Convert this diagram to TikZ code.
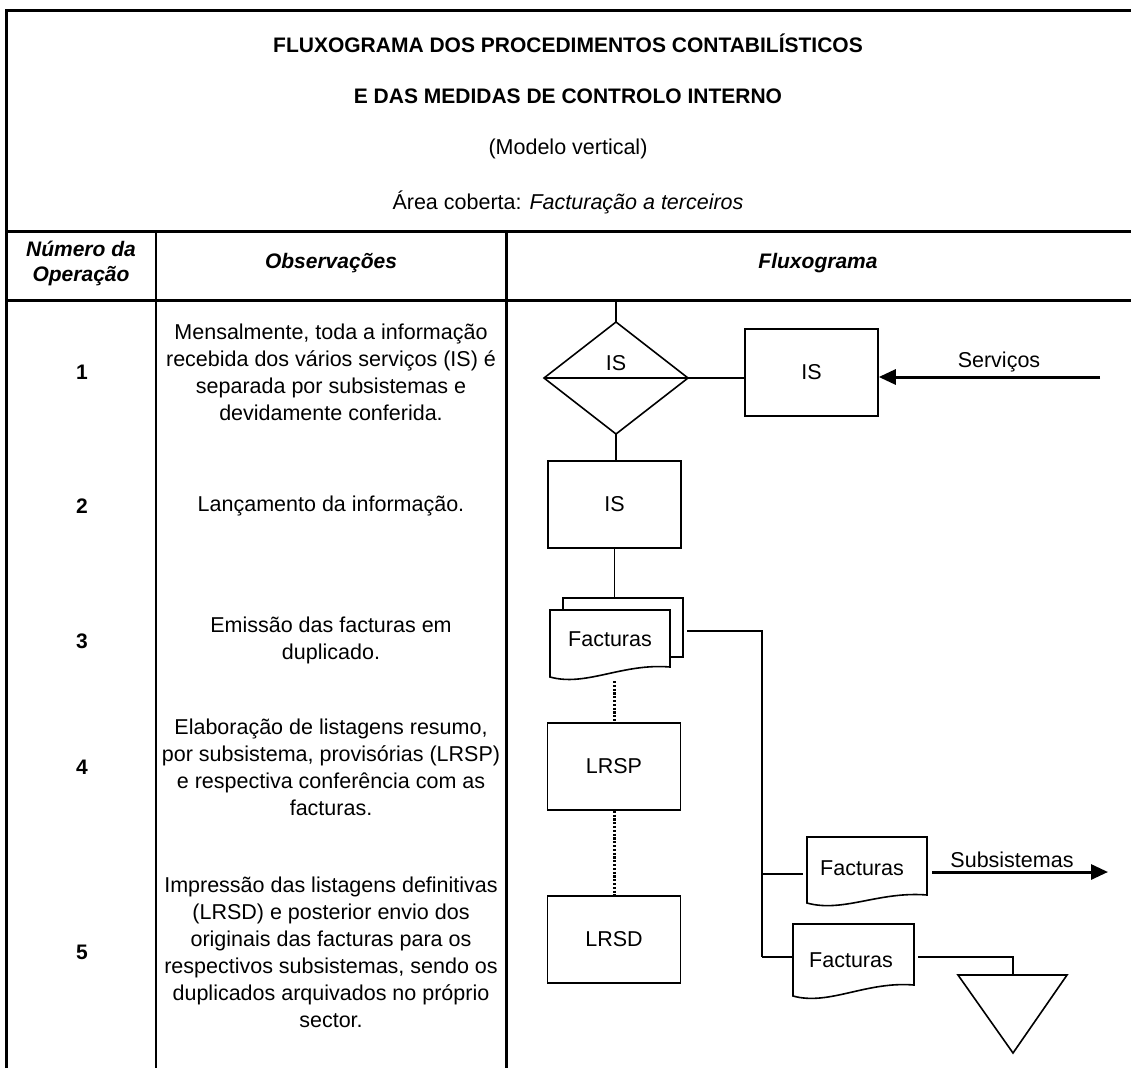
\documentclass[tikz,border=0pt]{standalone}
\usepackage{fontspec}
\setmainfont{Liberation Sans}
\usetikzlibrary{arrows.meta}
\begin{document}
\begin{tikzpicture}[x=1pt,y=-1pt,
  every node/.style={font=\fontsize{21.5}{27}\selectfont, inner sep=0pt},
  frame/.style={line width=3pt},
  thinframe/.style={line width=2pt},
  conn/.style={line width=1.6pt},
  box/.style={draw, line width=1.6pt, minimum width=133pt, minimum height=87pt, inner sep=0pt},
  docshape/.style={draw, line width=1.6pt, fill=white},
  dotconn/.style={line width=3pt, dash pattern=on 2.2pt off 1.6pt},
  arr/.style={line width=3pt, -{Triangle[length=17pt,width=15pt]}},
  hdr/.style={font=\fontsize{21}{27}\selectfont\bfseries},
  colhdr/.style={font=\fontsize{21}{25}\selectfont\bfseries\itshape, align=center},
  num/.style={font=\fontsize{21}{27}\selectfont\bfseries},
  obs/.style={align=center, font=\fontsize{21.5}{27}\selectfont},
]
\useasboundingbox (0,0) rectangle (1131,1068);

% ---- frame ----
\draw[frame] (6,1068) -- (6,10) -- (1131,10);
\draw[frame] (6,231) -- (1131,231);
\draw[frame] (6,300) -- (1131,300);
\draw[thinframe] (156,231) -- (156,1068);
\draw[frame] (506,231) -- (506,1068);

% ---- header ----
\node[hdr] (t1) at (568,43) {FLUXOGRAMA DOS PROCEDIMENTOS CONTABILÍSTICOS};
\node[hdr] (t2) at (568,96) {E DAS MEDIDAS DE CONTROLO INTERNO};
\node (t3) at (568,149) {(Modelo vertical)};
\node (t4) at (568,202) {Área coberta: \textit{Facturação a terceiros}};

\node[colhdr] (h1) at (81,263) {Número da\\Operação};
\node[colhdr] (h2) at (331,263) {Observações};
\node[colhdr] (h3) at (818,263) {Fluxograma};

% ---- rows ----
\node[num] (n1) at (82,372) {1};
\node[num] (n2) at (82,506) {2};
\node[num] (n3) at (82,641) {3};
\node[num] (n4) at (82,767) {4};
\node[num] (n5) at (82,952) {5};

\node[obs] (o1) at (331,372) {Mensalmente, toda a informação\\recebida dos vários serviços (IS) é\\separada por subsistemas e\\devidamente conferida.};
\node[obs] (o2) at (331,506) {Lançamento da informação.};
\node[obs] (o3) at (331,640) {Emissão das facturas em\\duplicado.};
\node[obs] (o4) at (331,767) {Elaboração de listagens resumo,\\por subsistema, provisórias (LRSP)\\e respectiva conferência com as\\facturas.};
\node[obs] (o5) at (331,952) {Impressão das listagens definitivas\\(LRSD) e posterior envio dos\\originais das facturas para os\\respectivos subsistemas, sendo os\\duplicados arquivados no próprio\\sector.};

% ---- flowchart ----
\coordinate (top) at (616,300);
\coordinate (dN) at (616,322);
\coordinate (dS) at (616,434);
\coordinate (dW) at (544,378);
\coordinate (dE) at (688,378);
\draw[conn] (dW) -- (dN) -- (dE) -- (dS) -- cycle;
\draw[conn] (dW) -- (dE);
\node (dlab) at (616,363) {IS};
\draw[conn] (top) -- (dN);

\node[box] (is1) at (811.5,372.5) {IS};
\draw[conn] (dE) -- (dE -| is1.west);
\coordinate (serv) at (1100,377);
\draw[arr] (serv) -- (serv -| is1.east);
\node (servlab) at (999,362) {Serviços};

\node[box] (is2) at (614.5,504.5) {IS};
\draw[conn] (dS) -- (dS |- is2.north);

% stacked documents
\node[draw, line width=1.6pt, fill=white, minimum width=120pt, minimum height=59pt] (bdoc) at (623,627.5) {};
\draw[conn] (is2.south) -- (is2.south |- bdoc.north);
\draw[docshape] (550,610) -- (670,610) -- (670,667) .. controls (622,663) and (586,687) .. (550,677) -- cycle;
\node (fdoc) at (610,639) {Facturas};

\coordinate (fbot) at (614,681);
\node[box] (lrsp) at (614,766.5) {LRSP};
\node[box] (lrsd) at (614,939.5) {LRSD};
\draw[dotconn] (fbot) -- (lrsp.north);
\draw[dotconn] (lrsp.south) -- (lrsd.north);

% branches
\coordinate (b0) at (687,631);
\coordinate (b1) at (762,631);
\coordinate (b2) at (762,874);
\coordinate (b3) at (762,957);
\draw[conn] (b0) -- (b1) -- (b3);

\draw[docshape] (807,837) -- (927,837) -- (927,895) .. controls (879,891) and (843,913) .. (807,903) -- cycle;
\node (udoc) at (862,868) {Facturas};
\coordinate (u0) at (803,874);
\draw[conn] (b2) -- (u0);
\coordinate (ua0) at (932,872);
\coordinate (ua1) at (1108,872);
\draw[arr] (ua0) -- (ua1);
\node (sublab) at (1012,860) {Subsistemas};

\draw[docshape] (793,924) -- (914,924) -- (914,985) .. controls (866,981) and (829,1006) .. (793,996) -- cycle;
\node (ldoc) at (851,960) {Facturas};
\coordinate (l0) at (793,957);
\draw[conn] (b3) -- (l0);
\coordinate (l1) at (918,957);
\coordinate (tri) at (1013,975);
\draw[conn] (l1) -| (tri);
\draw[conn, line join=miter] (958,975) -- (1067,975) -- (1013,1053) -- cycle;

\end{tikzpicture}
\end{document}
